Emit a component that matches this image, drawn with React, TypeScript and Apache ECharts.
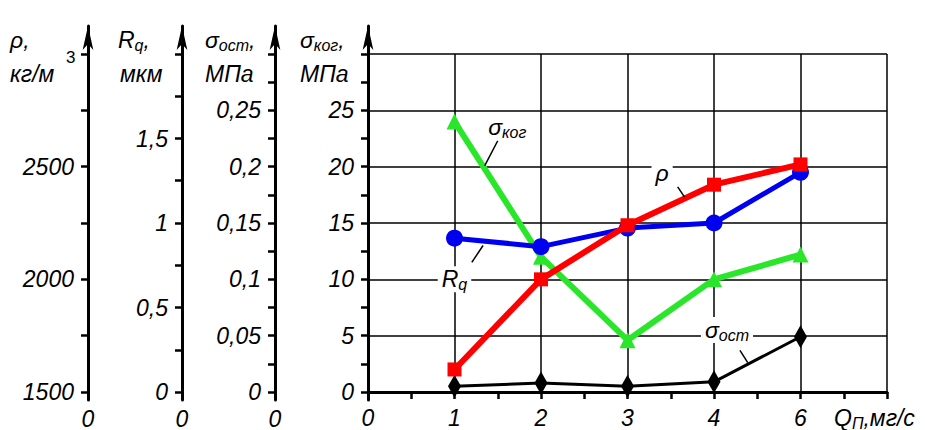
import React, { useEffect, useRef } from 'react';
import * as echarts from 'echarts';

// ---- data ----
const X_TICK_LABELS = ['0', '1', '2', '3', '4', '6'];
const X_POS = [1, 2, 3, 4, 5];
const RHO = [1600, 2000, 2240, 2420, 2510];
const RQ = [0.91, 0.86, 0.97, 1.0, 1.3];
const SIGMA_KOG = [24, 12, 4.6, 10, 12.2];
const SIGMA_OST = [0.005, 0.008, 0.005, 0.009, 0.049];

const RHO_TICKS = [1500, 1750, 2000, 2250, 2500, 2750, 3000];
const RHO_LABELS = [1500, 2000, 2500];
const RQ_TICKS = [0, 0.25, 0.5, 0.75, 1, 1.25, 1.5, 1.75, 2];
const RQ_LABELS = [0, 0.5, 1, 1.5];
const OST_TICKS = [0, 0.025, 0.05, 0.075, 0.1, 0.125, 0.15, 0.175, 0.2, 0.225, 0.25, 0.275, 0.3];
const OST_LABELS = [0, 0.05, 0.1, 0.15, 0.2, 0.25];
const KOG_TICKS = [0, 2.5, 5, 7.5, 10, 12.5, 15, 17.5, 20, 22.5, 25, 27.5, 30];
const KOG_LABELS = [0, 5, 10, 15, 20, 25];

// annotations in (x, σког) data space of the main plot
const ANNOTS = [
  { text: '{m|σ}{s|ког}', at: [1.61, 23.5], line: [[1.5, 22.3], [1.35, 20.1]] },
  { text: '{m|R}{s|q}', at: [1.0, 10.0], line: [[1.2, 11.5], [1.33, 13.0]] },
  { text: '{m|ρ}', at: [3.4, 19.4], line: [[3.58, 18.2], [3.66, 17.3]] },
  { text: '{m|σ}{s|ост}', at: [4.15, 5.5], line: [[4.3, 3.7], [4.39, 2.6]] },
];

// ---- layout ----
const W = 925, H = 430;
const LEFT = 368, RIGHT = 38;
const PLOT_TOP = 54, PLOT_BOTTOM = 38;
const AXIS_TOP = 26, AXIS_BOTTOM = 30;
const FONT = 'Liberation Sans, Arial, sans-serif';
const FS = 23;

function ext(lo: number, hi: number) {
  const per = (hi - lo) / (H - PLOT_TOP - PLOT_BOTTOM);
  return { min: lo - (PLOT_BOTTOM - AXIS_BOTTOM) * per, max: lo + (H - PLOT_BOTTOM - AXIS_TOP) * per };
}

const fmt = (v: number) => String(+v.toFixed(4)).replace('.', ',');

const labelStyle = { color: '#000', fontSize: FS, fontStyle: 'italic' as const, fontFamily: FONT };

function visAxis(offset: number, lo: number, hi: number, ticks: number[], labels: number[], zeroName: boolean) {
  const r = ext(lo, hi);
  return {
    type: 'value',
    gridIndex: 1,
    position: 'left',
    offset,
    min: r.min,
    max: r.max,
    name: zeroName ? '0' : '',
    nameLocation: 'start',
    nameGap: 7,
    nameTextStyle: { ...labelStyle, align: 'center', verticalAlign: 'top' },
    axisLine: {
      show: true,
      onZero: false,
      symbol: ['none', 'arrow'],
      symbolSize: [8, 24],
      lineStyle: { color: '#000', width: 3 },
    },
    axisTick: { show: true, inside: false, length: 7, customValues: ticks, lineStyle: { color: '#000', width: 2.5 } },
    axisLabel: { show: true, margin: 14, customValues: labels, formatter: (v: number) => fmt(v), ...labelStyle },
    splitLine: { show: false },
  };
}

const richBase = {
  m: { fontSize: FS, fontStyle: 'italic', fontFamily: FONT, color: '#000' },
  s: { fontSize: 16, fontStyle: 'italic', fontFamily: FONT, color: '#000', padding: [10, 0, 0, 0] },
  c: { fontSize: FS, fontStyle: 'italic', fontFamily: FONT, color: '#000' },
  p: { fontSize: 17, fontStyle: 'normal', fontFamily: FONT, color: '#000' },
};

function title(x: number, y: number, text: string) {
  return {
    type: 'text',
    x,
    y,
    z: 50,
    style: { text, rich: richBase, fill: '#000', align: 'left', verticalAlign: 'middle', fontSize: FS, fontStyle: 'italic', fontFamily: FONT },
  };
}

export default function App() {
  const ref = useRef<HTMLDivElement>(null);
  useEffect(() => {
    if (!ref.current) return;
    const chart = echarts.init(ref.current, undefined, { renderer: 'svg' });
    const option: any = {
      animation: false,
      backgroundColor: '#fff',
      grid: [
        { left: LEFT, right: RIGHT, top: PLOT_TOP, bottom: PLOT_BOTTOM },
        { left: LEFT, right: RIGHT, top: AXIS_TOP, bottom: AXIS_BOTTOM },
      ],
      xAxis: [
        {
          type: 'value',
          gridIndex: 0,
          min: 0,
          max: 6,
          interval: 1,
          axisLine: { show: true, onZero: false, lineStyle: { color: '#000', width: 3 } },
          axisTick: { show: true, inside: false, length: 7, lineStyle: { color: '#000', width: 2.5 } },
          minorTick: { show: true, splitNumber: 2, length: 7, lineStyle: { color: '#000', width: 2.5 } },
          splitLine: { show: true, lineStyle: { color: '#000', width: 1.5 } },
          axisLabel: {
            margin: 14,
            formatter: (v: number) => (X_TICK_LABELS[Math.round(v)] ?? ''),
            ...labelStyle,
          },
        },
        { type: 'value', gridIndex: 1, min: 0, max: 6, show: false },
      ],
      yAxis: [
        {
          type: 'value',
          gridIndex: 0,
          min: 0,
          max: 30,
          interval: 5,
          axisLine: { show: false },
          axisTick: { show: false },
          axisLabel: { show: false },
          splitLine: { show: true, lineStyle: { color: '#000', width: 1.5 } },
        },
        visAxis(0, 0, 30, KOG_TICKS, KOG_LABELS, false),
        visAxis(LEFT - 275, 0, 0.3, OST_TICKS, OST_LABELS, true),
        visAxis(LEFT - 182, 0, 2, RQ_TICKS, RQ_LABELS, true),
        visAxis(LEFT - 88, 1500, 3000, RHO_TICKS, RHO_LABELS, true),
      ],
      series: [
        {
          name: 'σост',
          type: 'line',
          xAxisIndex: 1,
          yAxisIndex: 2,
          z: 2,
          data: X_POS.map((x, i) => [x, SIGMA_OST[i]]),
          symbol: 'diamond',
          symbolSize: [13, 23],
          lineStyle: { color: '#000', width: 3 },
          itemStyle: { color: '#000' },
        },
        {
          name: 'σког',
          type: 'line',
          xAxisIndex: 1,
          yAxisIndex: 1,
          z: 3,
          data: X_POS.map((x, i) => [x, SIGMA_KOG[i]]),
          symbol: 'triangle',
          symbolSize: 16,
          lineStyle: { color: '#2ae62a', width: 6 },
          itemStyle: { color: '#2ae62a' },
        },
        {
          name: 'Rq',
          type: 'line',
          xAxisIndex: 1,
          yAxisIndex: 3,
          z: 4,
          data: X_POS.map((x, i) => [x, RQ[i]]),
          symbol: 'circle',
          symbolSize: 17,
          lineStyle: { color: '#0000f0', width: 5 },
          itemStyle: { color: '#0000f0' },
        },
        {
          name: 'ρ',
          type: 'line',
          xAxisIndex: 1,
          yAxisIndex: 4,
          z: 5,
          data: X_POS.map((x, i) => [x, RHO[i]]),
          symbol: 'rect',
          symbolSize: 14,
          lineStyle: { color: '#ff0000', width: 6 },
          itemStyle: { color: '#ff0000' },
        },
      ],
    };
    chart.setOption(option);

    const px = (p: number[]) => chart.convertToPixel({ xAxisIndex: 0, yAxisIndex: 0 }, p) as number[];
    const graphics: any[] = [
      title(10, 40, '{c|ρ,}'),
      title(10, 74, '{c|кг/м}'),
      title(66, 57, '{p|3}'),
      title(118, 40, '{m|R}{s|q}{c|,}'),
      title(120, 74, '{c|мкм}'),
      title(205, 40, '{m|σ}{s|ост}{c|,}'),
      title(205, 74, '{c|МПа}'),
      title(300, 40, '{m|σ}{s|ког}{c|,}'),
      title(300, 74, '{c|МПа}'),
      title(834, 418, '{m|Q}{s|П}{c|,мг/с}'),
    ];
    ANNOTS.forEach((a) => {
      const c = px(a.at);
      const p1 = px(a.line[0]);
      const p2 = px(a.line[1]);
      graphics.push({
        type: 'line',
        z: 40,
        shape: { x1: p1[0], y1: p1[1], x2: p2[0], y2: p2[1] },
        style: { stroke: '#000', lineWidth: 1.5 },
      });
      graphics.push({
        type: 'text',
        x: c[0],
        y: c[1],
        z: 50,
        style: {
          text: a.text,
          rich: richBase,
          align: 'center',
          verticalAlign: 'middle',
          backgroundColor: '#fff',
          padding: [0, 4],
          fontSize: FS,
          fontStyle: 'italic',
          fontFamily: FONT,
          fill: '#000',
        },
      });
    });
    chart.setOption({ graphic: graphics });

    return () => chart.dispose();
  }, []);
  return <div ref={ref} style={{ position: 'absolute', left: 0, top: 0, width: W, height: H }} />;
}
